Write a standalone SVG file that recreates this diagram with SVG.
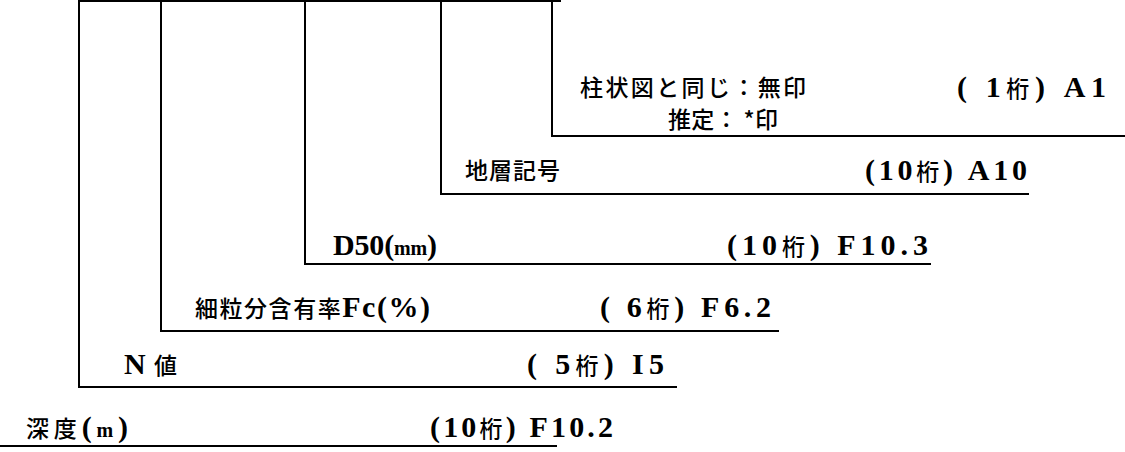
<svg xmlns="http://www.w3.org/2000/svg" width="1125" height="452" viewBox="0 0 1125 452">
<style>
  .bg { fill: #ffffff; }
  .ln { fill: none; stroke: #000000; stroke-width: 2; stroke-linecap: square; stroke-linejoin: miter; }
  .t { font-family: "Noto Sans CJK JP", "Liberation Serif", sans-serif; font-size: 23px; font-weight: 500; fill: #000000; white-space: pre; }
  .l { font-family: "Liberation Serif", "Noto Sans CJK JP", serif; font-size: 30px; font-weight: bold; }
  .s { font-family: "Liberation Serif", serif; font-size: 20px; font-weight: bold; }
</style>
<rect class="bg" x="0" y="0" width="1125" height="452"/>
<g id="connectors">
  <path class="ln" d="M79,1 H560"/>
  <path class="ln" d="M79,1 V387 H676"/>
  <path class="ln" d="M161,1 V331 H778"/>
  <path class="ln" d="M305,1 V264 H930"/>
  <path class="ln" d="M441,1 V194 H1028"/>
  <path class="ln" d="M552,1 V136 H1125"/>
  <path class="ln" d="M0,446 H556"/>
</g>
<g id="node-kijo">
  <text class="t" x="580" y="96" textLength="226" lengthAdjust="spacing">柱状図と同じ：無印</text>
  <text class="t" x="957" y="97" textLength="149" lengthAdjust="spacing"><tspan class="l">( 1</tspan>桁<tspan class="l">) A1</tspan></text>
  <text class="t" x="668" y="128" textLength="110" lengthAdjust="spacing">推定： *印</text>
</g>
<g id="node-chiso">
  <text class="t" x="465" y="179" textLength="95" lengthAdjust="spacing">地層記号</text>
  <text class="t" x="865" y="180" textLength="162" lengthAdjust="spacing"><tspan class="l">(10</tspan>桁<tspan class="l">) A10</tspan></text>
</g>
<g id="node-d50">
  <text class="t" x="333" y="255" textLength="104" lengthAdjust="spacing"><tspan class="l">D50(</tspan><tspan class="s">mm</tspan><tspan class="l">)</tspan></text>
  <text class="t" x="727" y="255" textLength="201" lengthAdjust="spacing"><tspan class="l">(10</tspan>桁<tspan class="l">) F10.3</tspan></text>
</g>
<g id="node-fc">
  <text class="t" x="195" y="317" textLength="235" lengthAdjust="spacing">細粒分含有率<tspan class="l">Fc(%)</tspan></text>
  <text class="t" x="600" y="317" textLength="171" lengthAdjust="spacing"><tspan class="l">( 6</tspan>桁<tspan class="l">) F6.2</tspan></text>
</g>
<g id="node-n">
  <text class="t" x="124" y="374" textLength="53" lengthAdjust="spacing"><tspan class="l">N </tspan>値</text>
  <text class="t" x="527" y="374" textLength="137" lengthAdjust="spacing"><tspan class="l">( 5</tspan>桁<tspan class="l">) I5</tspan></text>
</g>
<g id="node-depth">
  <text class="t" x="26" y="437" textLength="102" lengthAdjust="spacing">深度<tspan class="l">(</tspan><tspan class="s">m</tspan><tspan class="l">)</tspan></text>
  <text class="t" x="430" y="437" textLength="183" lengthAdjust="spacing"><tspan class="l">(10</tspan>桁<tspan class="l">) F10.2</tspan></text>
</g>
</svg>
